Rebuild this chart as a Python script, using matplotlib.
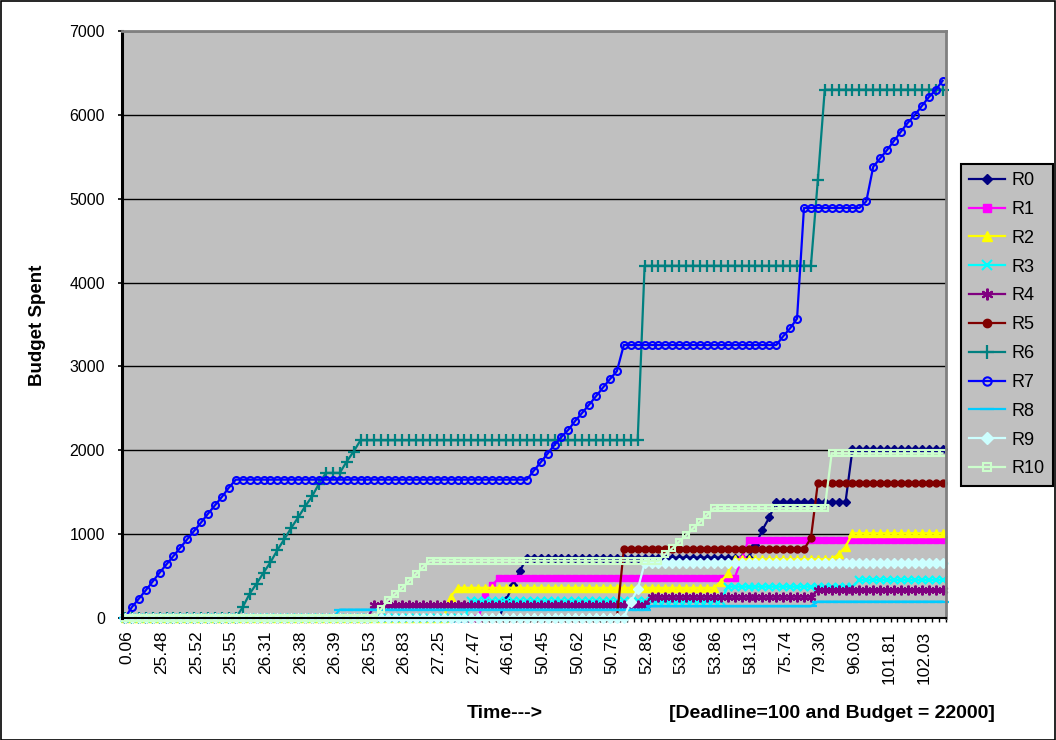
import matplotlib
matplotlib.use("Agg")
import matplotlib.pyplot as plt
import matplotlib.transforms as mtransforms
import numpy as np
from matplotlib.patches import Rectangle

plt.rcParams['font.family'] = ['Liberation Sans', 'DejaVu Sans']

# ---------------- data ----------------
x_labels = ["0.06", "25.48", "25.52", "25.55", "26.31", "26.38", "26.39", "26.53",
            "26.83", "27.25", "27.47", "46.61", "50.45", "50.62", "50.75", "52.89",
            "53.66", "53.86", "58.13", "75.74", "79.30", "96.03", "101.81", "102.03"]
n_cat = 119
label_step = 5

R0 = [0]*55 + [215, 390, 560] + [720]*33 + [870, 1050, 1200] + [1385]*11 + [2010]*14
R1 = [0]*52 + [260, 390] + [480]*35 + [700] + [935]*29
R2 = [0]*47 + [254] + [360]*38 + [433, 533] + [700]*15 + [763, 850] + [1010]*14
R3 = [0]*50 + [200]*37 + [373]*19 + [453]*13
R4 = [0]*36 + [150]*40 + [254]*24 + [334]*19
R5 = [0]*72 + [820]*27 + [950] + [1610]*19
R6 = ([0]*17 + [130, 290, 410, 540, 665, 810, 940, 1075, 1200, 1330, 1450, 1600]
      + [1730]*3 + [1865, 1985] + [2120]*41 + [4200]*25 + [5220] + [6300]*18)
R7 = ([0, 130, 230, 330, 435, 540, 640, 740, 840, 940, 1040, 1140, 1245, 1345, 1445, 1555]
      + [1650]*43
      + [1756, 1856, 1960, 2065, 2160, 2245, 2352, 2447, 2545, 2646, 2749, 2849, 2944]
      + [3255]*23 + [3360, 3455, 3570] + [4890]*9
      + [4970, 5382, 5482, 5581, 5692, 5800, 5907, 5998, 6105, 6209, 6296, 6407])
R8 = [0]*31 + [100]*45 + [140]*24 + [195]*19
R9 = [0]*73 + [195, 342] + [652]*44
R10 = ([0]*37 + [110, 215, 285, 360, 440, 524, 604] + [683]*34
       + [763, 830, 910, 990, 1069, 1148, 1228] + [1308]*17 + [1964]*17)

series_names = ["R0", "R1", "R2", "R3", "R4", "R5", "R6", "R7", "R8", "R9", "R10"]
series_values = [R0, R1, R2, R3, R4, R5, R6, R7, R8, R9, R10]

# ---------------- styles ----------------
styles = [
    dict(color='#000080', marker='D', ms=4.5),
    dict(color='#FF00FF', marker='s', ms=4.5),
    dict(color='#FFFF00', marker='^', ms=6),
    dict(color='#00FFFF', marker='x', ms=6, mew=1.5),
    dict(color='#800080', marker=(6, 2, 0), ms=7, mew=1.5),
    dict(color='#800000', marker='o', ms=5),
    dict(color='#008080', marker='+', ms=8, mew=1.6),
    dict(color='#0000FF', marker='o', ms=5, mfc='none', mew=1.5),
    dict(color='#00CCFF', marker='_', ms=8, mew=1.6),
    dict(color='#CCFFFF', marker='D', ms=5),
    dict(color='#CCFFCC', marker='s', ms=5, mfc='none', mew=1.5),
]

W, H = 1056, 740
fig = plt.figure(figsize=(W/100, H/100), dpi=100)
fig.patch.set_facecolor('white')

pl, pr, pt, pb = 121.5, 946, 31, 618
ax = fig.add_axes([pl/W, 1-pb/H, (pr-pl)/W, (pb-pt)/H])
ax.set_facecolor('#C0C0C0')

x = np.arange(n_cat)
for name, vals, st in zip(series_names, series_values, styles):
    st = dict(st)
    ax.plot(x, vals, label=name, lw=1.6, color=st.pop('color'),
            marker=st.pop('marker'), markersize=st.pop('ms'),
            markeredgewidth=st.pop('mew', 1.0),
            markerfacecolor=st.pop('mfc', None) or None,
            clip_on=False)

ax.set_xlim(-0.5, n_cat-0.5)
ax.set_ylim(0, 7000)
ax.set_yticks(np.arange(0, 7001, 1000))
ax.set_yticklabels([str(v) for v in range(0, 7001, 1000)], fontsize=11.5)
ax.yaxis.grid(True, color='black', lw=1.0)
ax.set_axisbelow(True)

major = np.arange(0, n_cat, label_step)[:len(x_labels)]
ax.set_xticks(major)
ax.set_xticklabels(x_labels, rotation=90, fontsize=12.5, va='top', ha='center')
ax.set_xticks(np.arange(-0.5, n_cat, 1.0), minor=True)
ax.tick_params(axis='x', which='major', length=0, pad=9)
ax.tick_params(axis='x', which='minor', length=3, width=1, direction='out')
ax.tick_params(axis='y', length=3, width=1.2, pad=9)

offset = mtransforms.ScaledTranslation(2/100, 0, fig.dpi_scale_trans)
for lab in ax.get_xticklabels():
    lab.set_transform(lab.get_transform() + offset)

for s in ['top', 'right']:
    ax.spines[s].set_color('#808080')
    ax.spines[s].set_linewidth(2)
ax.spines['left'].set_linewidth(2.2)
ax.spines['bottom'].set_linewidth(1.5)
ax.spines['left'].set_color('black')
ax.spines['bottom'].set_color('black')

fig.text(37/W, 1-325/H, "Budget Spent", rotation=90, ha='center', va='center',
         fontsize=13.5, fontweight='bold')
fig.text(505/W, 1-713/H, "Time--->", ha='center', va='center',
         fontsize=14, fontweight='bold')
fig.text(832/W, 1-713/H, "[Deadline=100 and Budget = 22000]", ha='center', va='center',
         fontsize=14, fontweight='bold')

leg = fig.legend(loc='upper left', bbox_to_anchor=(961/W, 1-164/H), borderaxespad=0,
                 fontsize=13, frameon=True, fancybox=False, edgecolor='black',
                 facecolor='#C0C0C0', framealpha=1, handlelength=2.0,
                 handletextpad=0.35, labelspacing=0.655, borderpad=0.45,
                 markerscale=1.2)
leg.get_frame().set_linewidth(1.5)

fig.add_artist(Rectangle((0.5/W, 0.5/H), 1-1.5/W, 1-1.5/H, transform=fig.transFigure,
                         fill=False, edgecolor='black', lw=1.2))

fig.savefig("out.png", dpi=100)
